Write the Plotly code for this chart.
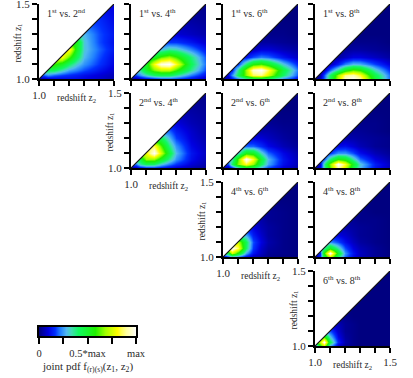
import plotly.graph_objects as go

W, H = 413, 378
FONT = "Liberation Serif"
INK = "#2a2a2a"

GRID = [1.00, 1.03, 1.06, 1.10, 1.15, 1.20, 1.25, 1.30, 1.40, 1.50]
TICKS = [1.0, 1.1, 1.2, 1.3, 1.4, 1.5]
LEVELS = [0, 0.05, 0.1, 0.15, 0.2, 0.25, 0.3, 0.35, 0.4, 0.45, 0.5, 0.55, 0.6,
          0.65, 0.7, 0.75, 0.8, 0.85, 0.9, 0.95, 1]
BAR_TICKS = [0, 0.25, 0.5, 0.75, 1]
BAR_LABELS = ["0", "", "0.5*max", "", "max"]

# Each table: rows for z1 = GRID[i], values for z2 = GRID[i:], relative to max
P_1_2 = [[0, .04, .06, .08, .09, .10, .10, .09, .07, .04],
         [.20, .24, .20, .17, .15, .13, .11, .08, .05],
         [.42, .42, .33, .26, .22, .18, .12, .07],
         [.60, .52, .40, .30, .24, .16, .09],
         [.80, .62, .42, .28, .18, .10],
         [.84, .50, .30, .20, .12],
         [.52, .30, .18, .11],
         [.28, .18, .12],
         [.15, .10],
         [.09]]
P_1_4 = [[0, .03, .06, .09, .12, .15, .16, .15, .10, .05],
         [.18, .24, .32, .40, .43, .42, .36, .22, .11],
         [.35, .50, .65, .72, .72, .60, .36, .17],
         [.50, .80, .97, 1.0, .82, .42, .20],
         [.50, .62, .68, .60, .38, .18],
         [.28, .34, .32, .22, .12],
         [.16, .16, .12, .07],
         [.08, .06, .04],
         [.03, .02],
         [.01]]
P_1_6 = [[0, .05, .11, .20, .30, .38, .40, .36, .22, .10],
         [.10, .24, .42, .66, .85, .88, .75, .40, .18],
         [.14, .36, .68, .95, 1.0, .85, .46, .21],
         [.16, .38, .55, .60, .52, .30, .14],
         [.12, .18, .22, .20, .12, .06],
         [.05, .08, .08, .05, .03],
         [.03, .03, .02, .01],
         [.01, .01, 0],
         [0, 0],
         [0]]
P_1_8 = [[0, .06, .20, .42, .72, .95, 1.0, .92, .48, .20],
         [.04, .18, .40, .68, .88, .92, .82, .44, .20],
         [.06, .20, .36, .52, .62, .58, .32, .15],
         [.05, .13, .22, .28, .27, .17, .08],
         [.03, .06, .09, .09, .06, .03],
         [.02, .03, .03, .02, .01],
         [.01, .01, .01, 0],
         [0, 0, 0],
         [0, 0],
         [0]]
P_2_4 = [[0, .05, .09, .12, .13, .11, .09, .07, .04, .02],
         [.22, .34, .42, .40, .30, .22, .16, .08, .04],
         [.45, .68, .68, .52, .36, .24, .11, .05],
         [.78, 1.0, .74, .46, .28, .12, .06],
         [.85, .62, .38, .24, .10, .05],
         [.42, .28, .17, .08, .04],
         [.20, .13, .07, .03],
         [.09, .05, .03],
         [.03, .02],
         [.01]]
P_2_6 = [[0, .05, .12, .26, .42, .38, .26, .17, .08, .03],
         [.18, .40, .66, .82, .68, .42, .26, .11, .05],
         [.32, .62, 1.0, .82, .48, .28, .12, .05],
         [.30, .54, .52, .32, .20, .10, .04],
         [.20, .20, .15, .10, .05, .02],
         [.09, .08, .06, .03, .01],
         [.04, .04, .02, .01],
         [.02, .01, .01],
         [0, 0],
         [0]]
P_2_8 = [[0, .10, .32, .62, .90, .74, .46, .28, .12, .05],
         [.08, .34, .66, 1.0, .82, .52, .30, .13, .06],
         [.18, .38, .56, .52, .34, .20, .09, .04],
         [.16, .24, .24, .18, .11, .05, .02],
         [.10, .11, .08, .05, .02, .01],
         [.04, .04, .03, .02, .01],
         [.02, .02, .01, 0],
         [.01, .01, 0],
         [0, 0],
         [0]]
P_4_6 = [[0, .14, .22, .18, .10, .05, .03, .01, 0, 0],
         [.45, .75, .55, .26, .12, .06, .02, .01, 0],
         [1.0, .85, .40, .16, .07, .03, .01, 0],
         [.72, .42, .18, .09, .04, .01, 0],
         [.26, .13, .07, .03, .01, 0],
         [.09, .05, .03, .01, 0],
         [.04, .02, .01, 0],
         [.02, .01, 0],
         [0, 0],
         [0]]
P_4_8 = [[0, .16, .45, .72, .38, .20, .10, .05, .02, 0],
         [.14, .58, 1.0, .50, .24, .12, .06, .02, 0],
         [.34, .52, .34, .18, .09, .05, .02, 0],
         [.24, .18, .11, .06, .03, .01, 0],
         [.09, .07, .04, .02, .01, 0],
         [.04, .03, .02, .01, 0],
         [.02, .01, .01, 0],
         [.01, 0, 0],
         [0, 0],
         [0]]
P_6_8 = [[0, .55, .70, .25, .08, .02, .01, 0, 0, 0],
         [.72, 1.0, .42, .14, .04, .01, 0, 0, 0],
         [.60, .30, .10, .03, .01, 0, 0, 0],
         [.18, .07, .02, .01, 0, 0, 0],
         [.05, .02, .01, 0, 0, 0],
         [.01, 0, 0, 0, 0],
         [0, 0, 0, 0],
         [0, 0, 0],
         [0, 0],
         [0]]

COLORS = [[0, "#000080"], [0.09, "#0000e0"], [0.16, "#0030ff"], [0.22, "#2080ff"],
          [0.28, "#50b8f0"], [0.33, "#40dcb0"], [0.4, "#10f860"], [0.58, "#20f000"],
          [0.68, "#a0ff00"], [0.8, "#ffff00"], [0.9, "#ffffa0"], [1, "#ffffff"]]

COL_X = [39, 131, 223, 315]
ROW_Y = [4, 93, 182, 271]
SIZE = 75

PANELS = [(0, 0, P_1_2, "1<sup>st</sup> vs. 2<sup>nd</sup>"),
          (1, 0, P_1_4, "1<sup>st</sup> vs. 4<sup>th</sup>"),
          (2, 0, P_1_6, "1<sup>st</sup> vs. 6<sup>th</sup>"),
          (3, 0, P_1_8, "1<sup>st</sup> vs. 8<sup>th</sup>"),
          (1, 1, P_2_4, "2<sup>nd</sup> vs. 4<sup>th</sup>"),
          (2, 1, P_2_6, "2<sup>nd</sup> vs. 6<sup>th</sup>"),
          (3, 1, P_2_8, "2<sup>nd</sup> vs. 8<sup>th</sup>"),
          (2, 2, P_4_6, "4<sup>th</sup> vs. 6<sup>th</sup>"),
          (3, 2, P_4_8, "4<sup>th</sup> vs. 8<sup>th</sup>"),
          (3, 3, P_6_8, "6<sup>th</sup> vs. 8<sup>th</sup>")]


def px(v):
    return v / W


def py(v):
    return 1 - v / H


def full_table(rows):
    out = []
    for i, row in enumerate(rows):
        out.append([row[0]] * i + list(row))
    return out


fig = go.Figure()
layout = {}
notes = []
lo, hi = GRID[0], GRID[-1]

for n, (c, r, table, label) in enumerate(PANELS, start=1):
    xn, yn = f"x{n}", f"y{n}"
    diag = c == r
    fig.add_trace(go.Heatmap(x=GRID, y=GRID, z=full_table(table), zmin=0, zmax=1,
                             zsmooth="best", colorscale=COLORS, showscale=False,
                             hoverinfo="skip", xaxis=xn, yaxis=yn))
    fig.add_trace(go.Scatter(x=[lo, hi, lo, lo], y=[lo, hi, hi, lo], mode="lines",
                             fill="toself", fillcolor="white", line=dict(width=0),
                             showlegend=False, hoverinfo="skip", xaxis=xn, yaxis=yn))
    fig.add_trace(go.Scatter(x=[lo, hi], y=[lo, hi], mode="lines",
                             line=dict(color="#111111", width=1.2), showlegend=False,
                             hoverinfo="skip", xaxis=xn, yaxis=yn))
    x0, y0 = COL_X[c], ROW_Y[r]
    common = dict(range=[lo, hi], tickmode="array", tickvals=TICKS, ticks="outside",
                  ticklen=5, tickwidth=1.5, tickcolor="black", showline=True,
                  linecolor="black", linewidth=2, showgrid=False, zeroline=False,
                  fixedrange=True, automargin=False, ticklabeloverflow="allow",
                  tickfont=dict(family=FONT, size=11, color=INK))
    xlabels = ["1.0", "", "", "", "", "1.5" if r == 3 else ""]
    ylabels = ["1.0", "", "", "", "", "1.5"]
    layout["xaxis" + (str(n) if n > 1 else "")] = dict(
        common, domain=[px(x0), px(x0 + SIZE)], anchor=yn,
        ticktext=xlabels, showticklabels=diag)
    layout["yaxis" + (str(n) if n > 1 else "")] = dict(
        common, domain=[py(y0 + SIZE), py(y0)], anchor=xn,
        ticktext=ylabels, showticklabels=diag)
    notes.append(dict(text=label, x=px(x0 + 6), y=py(y0 + 9), xanchor="left",
                      yanchor="middle", font=dict(family=FONT, size=10, color=INK)))
    if diag:
        notes.append(dict(text="redshift z<sub>2</sub>", x=px(x0 + SIZE / 2),
                          y=py(y0 + SIZE + 19), xanchor="center", yanchor="middle",
                          font=dict(family=FONT, size=9.5, color=INK)))
        notes.append(dict(text="redshift z<sub>1</sub>", x=px(x0 - 21),
                          y=py(y0 + SIZE / 2 + 2), xanchor="center", yanchor="middle",
                          textangle=-90, font=dict(family=FONT, size=9.5, color=INK)))

# colour key
k = len(PANELS) + 1
fig.add_trace(go.Heatmap(x=LEVELS, y=[0, 1], z=[LEVELS, LEVELS], zmin=0, zmax=1,
                         zsmooth="best", colorscale=COLORS, showscale=False,
                         hoverinfo="skip", xaxis=f"x{k}", yaxis=f"y{k}"))
layout[f"xaxis{k}"] = dict(domain=[px(39), px(136)], range=[0, 1], anchor=f"y{k}",
                           tickmode="array", tickvals=BAR_TICKS, ticktext=BAR_LABELS,
                           ticks="outside", ticklen=6, tickwidth=1.5, tickcolor="black",
                           showline=True, mirror=True, linecolor="black", linewidth=2,
                           showgrid=False, zeroline=False, fixedrange=True,
                           tickfont=dict(family=FONT, size=10.5, color=INK))
layout[f"yaxis{k}"] = dict(domain=[py(336), py(327)], range=[0, 1], anchor=f"x{k}",
                           showticklabels=False, ticks="", showline=True, mirror=True,
                           linecolor="black", linewidth=2, showgrid=False,
                           zeroline=False, fixedrange=True)
notes.append(dict(text="joint pdf f<sub>(r)(s)</sub>(z<sub>1</sub>, z<sub>2</sub>)",
                  x=px(87), y=py(367), xanchor="center", yanchor="middle",
                  font=dict(family=FONT, size=11, color=INK)))

for a in notes:
    a.update(xref="paper", yref="paper", showarrow=False)

fig.update_layout(width=W, height=H, autosize=False,
                  margin=dict(l=0, r=0, t=0, b=0, pad=0, autoexpand=False),
                  paper_bgcolor="white", plot_bgcolor="white", showlegend=False,
                  annotations=notes, **layout)
fig.write_html("out.html", config=dict(displayModeBar=False),
               post_script="document.body.style.margin='0';")
